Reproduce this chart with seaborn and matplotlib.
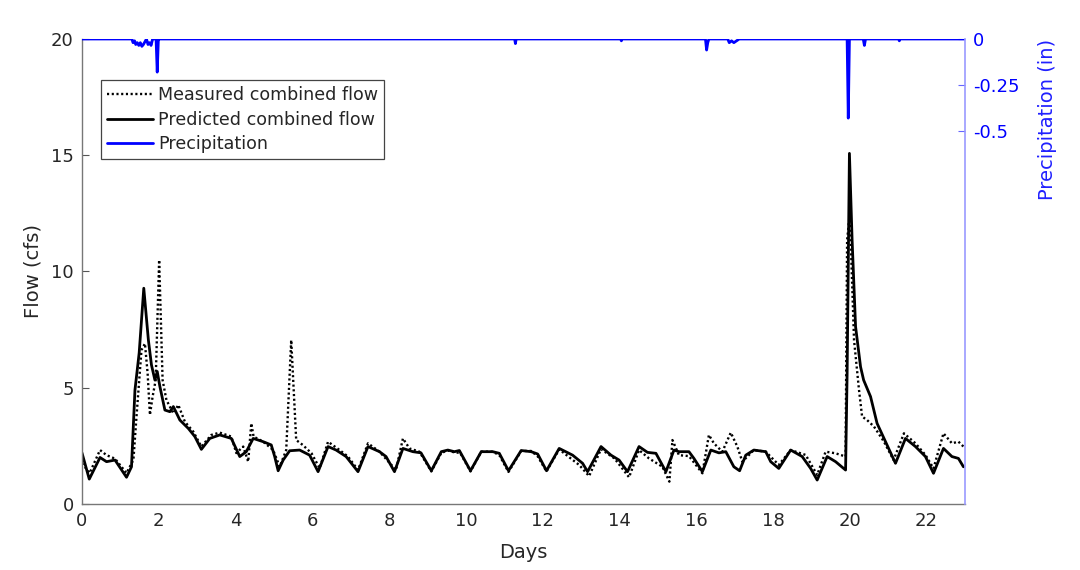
import matplotlib
matplotlib.use("Agg")
import matplotlib.pyplot as plt
import seaborn as sns
import pandas as pd
import numpy as np

# ---------------- data ----------------
pred_day = [0.00, 0.19, 0.47, 0.64, 0.86, 1.16, 1.29, 1.38, 1.49, 1.61, 1.73, 1.81, 1.90, 1.96, 2.03,
            2.16, 2.29, 2.38, 2.55, 2.77, 2.94, 3.11, 3.33, 3.59, 3.89, 4.11, 4.28, 4.46, 4.72, 4.93,
            5.02, 5.11, 5.24, 5.41, 5.67, 5.93, 6.15, 6.41, 6.62, 6.88, 7.19, 7.45, 7.75, 7.92, 8.14,
            8.36, 8.62, 8.83, 9.10, 9.36, 9.53, 9.70, 9.83, 10.12, 10.40, 10.70, 10.87, 11.11, 11.44,
            11.70, 11.87, 12.10, 12.43, 12.78, 13.04, 13.17, 13.52, 13.78, 13.99, 14.21, 14.51, 14.73,
            14.95, 15.21, 15.42, 15.55, 15.81, 15.94, 16.16, 16.38, 16.59, 16.77, 16.98, 17.13, 17.29,
            17.50, 17.81, 17.94, 18.15, 18.46, 18.76, 18.98, 19.15, 19.41, 19.63, 19.89, 19.93, 19.99,
            20.06, 20.15, 20.28, 20.36, 20.54, 20.71, 20.93, 21.19, 21.45, 21.71, 21.97, 22.18, 22.44,
            22.66, 22.83, 22.96]
pred_flow = [2.20, 1.07, 2.00, 1.82, 1.89, 1.15, 1.60, 4.90, 6.50, 9.28, 7.05, 5.98, 5.33, 5.70, 5.05,
             4.04, 3.97, 4.19, 3.61, 3.25, 2.90, 2.35, 2.82, 2.97, 2.82, 2.04, 2.25, 2.82, 2.68, 2.54,
             2.04, 1.43, 1.89, 2.29, 2.32, 2.10, 1.39, 2.47, 2.32, 2.04, 1.39, 2.47, 2.25, 2.04, 1.39,
             2.39, 2.25, 2.20, 1.43, 2.25, 2.32, 2.25, 2.30, 1.43, 2.25, 2.25, 2.18, 1.43, 2.30,
             2.25, 2.15, 1.43, 2.39, 2.10, 1.75, 1.39, 2.47, 2.10, 1.89, 1.39, 2.47, 2.22,
             2.18, 1.39, 2.32, 2.25, 2.25, 1.96, 1.39, 2.32, 2.20, 2.25, 1.60, 1.43, 2.10,
             2.32, 2.25, 1.82, 1.53, 2.32, 2.04, 1.53, 1.03, 2.04, 1.82, 1.46, 5.60, 15.08,
             11.35, 7.63, 5.90, 5.33, 4.62, 3.47, 2.68, 1.75, 2.82, 2.47, 2.04, 1.32, 2.39,
             2.04, 1.96, 1.60]

meas_day = [0.00, 0.20, 0.47, 0.64, 0.86, 1.16, 1.34, 1.42, 1.55, 1.64, 1.71, 1.77, 1.84, 1.92, 2.01,
            2.10, 2.20, 2.38, 2.51, 2.68, 2.90, 3.11, 3.37, 3.59, 3.89, 4.02, 4.20, 4.33, 4.41, 4.47,
            4.72, 4.98, 5.15, 5.32, 5.45, 5.58, 5.75, 5.98, 6.19, 6.41, 6.71, 6.93, 7.19, 7.45, 7.75,
            8.18, 8.36, 8.53, 8.79, 9.10, 9.36, 9.53, 9.70, 9.85, 10.12, 10.40, 10.70, 10.87, 11.11,
            11.44, 11.70, 11.87, 12.10, 12.43, 12.70, 12.95, 13.21, 13.52, 13.87, 14.25, 14.51, 14.77,
            15.12, 15.30, 15.38, 15.55, 15.81, 16.16, 16.33, 16.46, 16.68, 16.90, 17.07, 17.20, 17.50,
            17.81, 18.15, 18.46, 18.85, 19.15, 19.37, 19.63, 19.89, 19.93, 20.00, 20.11, 20.24, 20.32,
            20.45, 20.63, 20.89, 21.14, 21.41, 21.71, 21.97, 22.18, 22.44, 22.66, 22.83, 22.96]
meas_flow = [1.75, 1.33, 2.32, 2.10, 1.95, 1.33, 1.90, 3.76, 6.62, 6.90, 5.62, 3.83, 4.62, 5.33, 10.50,
             5.33, 4.47, 3.90, 4.26, 3.54, 3.11, 2.47, 2.97, 3.07, 2.90, 2.19, 2.47, 1.82, 3.47, 2.90,
             2.68, 2.32, 1.60, 2.32, 7.05, 2.75, 2.54, 2.18, 1.54, 2.68, 2.32, 2.04, 1.46, 2.61, 2.25,
             1.46, 2.82, 2.39, 2.25, 1.40, 2.20, 2.30, 2.22, 2.20, 1.40, 2.25, 2.25, 2.10, 1.38,
             2.28, 2.28, 2.05, 1.40, 2.35, 2.00, 1.68, 1.20, 2.36, 1.96, 1.15, 2.32, 1.96,
             1.60, 0.96, 2.75, 2.10, 2.06, 1.32, 2.97, 2.61, 2.25, 3.07, 2.47, 1.82, 2.32,
             2.25, 1.68, 2.32, 2.11, 1.25, 2.25, 2.18, 2.04, 11.35, 12.50, 7.05, 4.90, 3.76,
             3.61, 3.33, 2.68, 1.89, 3.04, 2.61, 2.11, 1.53, 3.04, 2.61, 2.68, 2.47]

precip_day = [0.0, 1.30, 1.33, 1.37, 1.40, 1.44, 1.48, 1.52, 1.56, 1.60, 1.64, 1.68, 1.72, 1.76, 1.80,
              1.84, 1.93, 1.96, 1.99, 2.02, 11.27, 11.29, 11.31, 14.03, 14.05, 14.07, 16.24, 16.27,
              16.30, 16.33, 16.82, 16.86, 16.92, 16.98, 17.05, 17.12, 19.93, 19.96, 19.99, 20.35,
              20.38, 20.41, 21.27, 21.29, 21.31, 23.0]
precip_in = [0, 0, -0.02, -0.01, -0.03, -0.02, -0.035, -0.02, -0.04, -0.03, -0.015, 0, -0.03, -0.02,
             -0.035, 0, 0, -0.18, 0, 0, 0, -0.025, 0, 0, -0.01, 0, 0, -0.06, -0.02, 0, 0, -0.02,
             -0.01, -0.02, -0.01, 0, 0, -0.43, 0, 0, -0.035, 0, 0, -0.01, 0, 0]

x_ticks = list(range(0, 23, 2))
left_ticks = [0, 5, 10, 15, 20]
right_ticks = [0, -0.25, -0.5]
right_tick_labels = ["0", "-0.25", "-0.5"]

# ---------------- plotting ----------------
sns.set_style("white")
plt.rcParams['font.family'] = ['DejaVu Sans']

fig = plt.figure(figsize=(10.8, 5.7), dpi=100)
ax = fig.add_axes([0.0759, 0.1158, 0.8176, 0.8158])

meas_df = pd.DataFrame({"day": meas_day, "flow": meas_flow})
pred_df = pd.DataFrame({"day": pred_day, "flow": pred_flow})
prec_df = pd.DataFrame({"day": precip_day, "precip": precip_in})

sns.lineplot(data=meas_df, x="day", y="flow", ax=ax, sort=False, estimator=None,
             color="black", linewidth=1.7, linestyle=(0, (0.9, 1.1)), label="Measured combined flow")
sns.lineplot(data=pred_df, x="day", y="flow", ax=ax, sort=False, estimator=None,
             color="black", linewidth=2.0, label="Predicted combined flow")

ax2 = ax.twinx()
sns.lineplot(data=prec_df, x="day", y="precip", ax=ax2, sort=False, estimator=None,
             color="#0000ff", linewidth=2.0, label="Precipitation")

ax.set_xlim(0, 23)
ax.set_ylim(0, 20)
ax2.set_ylim(-2.527, 0)

ax.set_xticks(x_ticks)
ax.set_yticks(left_ticks)
ax2.set_yticks(right_ticks)
ax2.set_yticklabels(right_tick_labels)

gray = "#262626"
ax.tick_params(axis="both", direction="in", length=5, width=0.8, color="#555555",
               labelsize=13, labelcolor=gray, pad=6)
ax2.tick_params(axis="y", direction="in", length=5, width=0.8, color="#6666ff",
                labelsize=13, labelcolor="#0000ff", pad=6)

ax.set_xlabel("Days", fontsize=14, color=gray, labelpad=9)
ax.set_ylabel("Flow (cfs)", fontsize=14, color=gray, labelpad=6)
ax2.set_ylabel("Precipitation (in)", fontsize=14, color="#2020ff", labelpad=8)
ax2.yaxis.set_label_coords(1.083, 0.826)

for a in (ax, ax2):
    a.spines["top"].set_visible(False)
ax.spines["left"].set_color("#777777")
ax.spines["bottom"].set_color("#777777")
ax.spines["right"].set_visible(False)
ax2.spines["left"].set_visible(False)
ax2.spines["bottom"].set_visible(False)
ax2.spines["right"].set_color("#9999ff")
ax2.spines["right"].set_linewidth(1.2)
ax.spines["left"].set_linewidth(1.0)
ax.spines["bottom"].set_linewidth(1.0)

h1, l1 = ax.get_legend_handles_labels()
h2, l2 = ax2.get_legend_handles_labels()
if ax.get_legend() is not None:
    ax.get_legend().remove()
leg = ax2.legend(h1 + h2, l1 + l2, loc="upper left", bbox_to_anchor=(0.0215, 0.912),
                 borderaxespad=0, fontsize=12.6, handlelength=2.6, handletextpad=0.3,
                 labelspacing=0.38, fancybox=False, framealpha=1, edgecolor="#444444",
                 borderpad=0.35)
leg.get_frame().set_linewidth(0.9)
for t in leg.get_texts():
    t.set_color(gray)

fig.savefig("out.png", dpi=100)
